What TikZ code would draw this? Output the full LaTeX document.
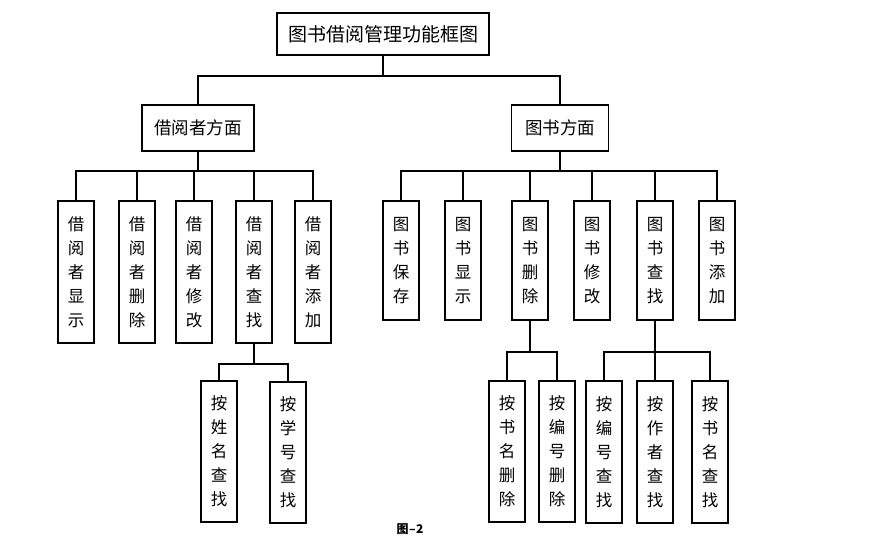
\documentclass[tikz,border=0pt]{standalone}
\usepackage{fontspec}
\newfontfamily\cjk{Noto Sans CJK SC}
\usetikzlibrary{positioning}

\begin{document}
\begin{tikzpicture}[x=1pt,y=-1pt,
  topbox/.style={draw,line width=1.6pt,inner sep=0pt,font=\cjk\fontsize{19}{22}\selectfont},
  groupbox/.style={draw,line width=1.6pt,inner sep=0pt,minimum height=46pt,font=\cjk\fontsize{17.5}{20}\selectfont},
  vbox/.style={draw,line width=1.6pt,inner sep=0pt,minimum width=36pt,align=center,
    font=\cjk\fontsize{16.5}{24}\selectfont},
  link/.style={line width=1.4pt}
]
  \useasboundingbox (0,0) rectangle (886,553);

  % top
  \node[topbox,minimum width=212pt,minimum height=42pt] (root) at (383,34) {图书借阅管理功能框图};
  \node[groupbox,minimum width=112pt] (reader) at (198,128) {借阅者方面};
  \node[groupbox,minimum width=97pt] (book) at (560,128) {图书方面};

  \coordinate (j0) at (383,76);
  \draw[link] (root) -- (j0);
  \draw[link] (j0) -| (reader.north);
  \draw[link] (j0) -| (book.north);

  % reader side
  \node[vbox,minimum height=142pt] (rshow) at (76,272) {借\\阅\\者\\显\\示};
  \node[vbox,minimum height=142pt] (rdel) at (137,272) {借\\阅\\者\\删\\除};
  \node[vbox,minimum height=142pt] (redit) at (194,272) {借\\阅\\者\\修\\改};
  \node[vbox,minimum height=142pt] (rfind) at (254,272) {借\\阅\\者\\查\\找};
  \node[vbox,minimum height=142pt] (radd) at (313,272) {借\\阅\\者\\添\\加};

  \coordinate (jr) at (198,171);
  \draw[link] (reader) -- (jr);
  \foreach \n in {rshow,rdel,redit,rfind,radd}
    \draw[link] (jr) -| (\n.north);

  \node[vbox,minimum height=141pt] (rbyname) at (219,451.5) {按\\姓\\名\\查\\找};
  \node[vbox,minimum height=141pt] (rbyid) at (288,452.5) {按\\学\\号\\查\\找};

  \coordinate (jrf) at (254,364);
  \draw[link] (rfind) -- (jrf);
  \foreach \n in {rbyname,rbyid}
    \draw[link] (jrf) -| (\n.north);

  % book side
  \node[vbox,minimum height=119pt] (bsave) at (401,260.5) {图\\书\\保\\存};
  \node[vbox,minimum height=119pt] (bshow) at (463,260.5) {图\\书\\显\\示};
  \node[vbox,minimum height=119pt] (bdel) at (530,260.5) {图\\书\\删\\除};
  \node[vbox,minimum height=119pt] (bedit) at (592,260.5) {图\\书\\修\\改};
  \node[vbox,minimum height=119pt] (bfind) at (655,260.5) {图\\书\\查\\找};
  \node[vbox,minimum height=119pt] (badd) at (717,260.5) {图\\书\\添\\加};

  \coordinate (jb) at (560,171);
  \draw[link] (book) -- (jb);
  \foreach \n in {bsave,bshow,bdel,bedit,bfind,badd}
    \draw[link] (jb) -| (\n.north);

  \node[vbox,minimum height=141pt] (bdtitle) at (507,451.5) {按\\书\\名\\删\\除};
  \node[vbox,minimum height=141pt] (bdno) at (557,451.5) {按\\编\\号\\删\\除};

  \coordinate (jbd) at (530,352);
  \draw[link] (bdel) -- (jbd);
  \foreach \n in {bdtitle,bdno}
    \draw[link] (jbd) -| (\n.north);

  \node[vbox,minimum height=142pt] (bfno) at (604,452) {按\\编\\号\\查\\找};
  \node[vbox,minimum height=142pt] (bfauthor) at (655,452) {按\\作\\者\\查\\找};
  \node[vbox,minimum height=142pt] (bftitle) at (710,452) {按\\书\\名\\查\\找};

  \coordinate (jbf) at (655,352);
  \draw[link] (bfind) -- (jbf);
  \foreach \n in {bfno,bfauthor,bftitle}
    \draw[link] (jbf) -| (\n.north);

  % caption
  \node[font=\cjk\bfseries\fontsize{12}{14}\selectfont] (cap) at (410,529) {图{\kern0.5pt}–{\kern0.5pt}2};
\end{tikzpicture}
\end{document}
